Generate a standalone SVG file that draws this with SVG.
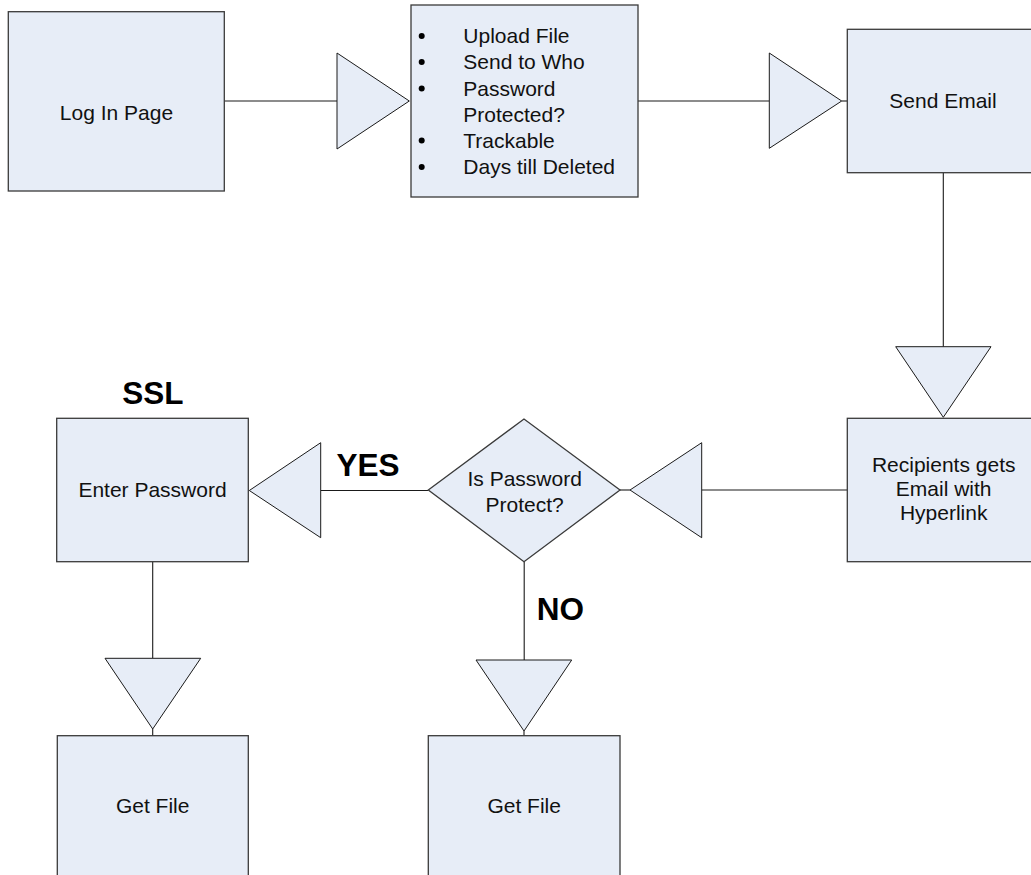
<svg xmlns="http://www.w3.org/2000/svg" width="1031" height="875" viewBox="0 0 1031 875">
<style>
.box{fill:#E7EDF7;stroke:#3a3a3a;stroke-width:1.3}
.tri{fill:#E7EDF7;stroke:#1a1a1a;stroke-width:1}
.ln{fill:none;stroke:#1a1a1a;stroke-width:1.1}
.t{font-family:"Liberation Sans",Arial,sans-serif;font-size:21px;fill:#111;text-anchor:middle}
.tl{font-family:"Liberation Sans",Arial,sans-serif;font-size:21px;fill:#111}
.b{font-family:"Liberation Sans",Arial,sans-serif;font-size:31.5px;font-weight:bold;fill:#000}
.dot{fill:#000}
</style>
<rect width="1031" height="875" fill="#fff"/>
<g id="connectors">
<path class="ln" d="M224.3 101H337"/>
<polygon class="tri" points="337,53 337,149 409.3,101"/>
<path class="ln" d="M638 101H769.3"/>
<polygon class="tri" points="769.3,53 769.3,148.3 841.7,101"/>
<path class="ln" d="M841.7 101H847.3"/>
<path class="ln" d="M943.3 172.7V346.7"/>
<polygon class="tri" points="895.7,346.7 991,346.7 943.3,417.3"/>
<path class="ln" d="M847.3 490H701.7"/>
<polygon class="tri" points="701.7,442.7 701.7,537.7 630,490"/>
<path class="ln" d="M630 490H620"/>
<path class="ln" d="M428.3 490.5H320.7"/>
<polygon class="tri" points="320.7,442.7 320.7,537.7 249.3,490.5"/>
<path class="ln" d="M152.7 561.7V658.3"/>
<polygon class="tri" points="105,658.3 200.7,658.3 152.7,729"/>
<path class="ln" d="M152.7 729V735.7"/>
<path class="ln" d="M524.2 561.7V660"/>
<polygon class="tri" points="476,660 571.7,660 524,731"/>
<path class="ln" d="M524 731V735.7"/>
</g>
<g id="login">
<rect class="box" x="8.3" y="11.7" width="216" height="179.3"/>
<text class="t" x="116.5" y="120">Log In Page</text>
</g>
<g id="options">
<rect class="box" x="411" y="5" width="227" height="192"/>
<circle class="dot" cx="421.7" cy="36" r="3"/>
<circle class="dot" cx="421.7" cy="62" r="3"/>
<circle class="dot" cx="421.7" cy="88.5" r="3"/>
<circle class="dot" cx="421.7" cy="140.5" r="3"/>
<circle class="dot" cx="421.7" cy="167" r="3"/>
<text class="tl" x="463.3" y="43.3">Upload File</text>
<text class="tl" x="463.3" y="69.3">Send to Who</text>
<text class="tl" x="463.3" y="96">Password</text>
<text class="tl" x="463.3" y="121.7">Protected?</text>
<text class="tl" x="463.3" y="147.7">Trackable</text>
<text class="tl" x="463.3" y="174.3">Days till Deleted</text>
</g>
<g id="send-email">
<rect class="box" x="847.3" y="29.3" width="190" height="143.4"/>
<text class="t" x="943" y="108.3">Send Email</text>
</g>
<g id="recipients">
<rect class="box" x="847.3" y="418.3" width="190" height="143.4"/>
<text class="t" x="943.7" y="471.7">Recipients gets</text>
<text class="t" x="943.7" y="496">Email with</text>
<text class="t" x="943.7" y="520">Hyperlink</text>
</g>
<g id="decision">
<polygon class="box" points="428.3,490 524,419 620,490 524,561.7"/>
<text class="t" x="524.7" y="485.5">Is Password</text>
<text class="t" x="524.7" y="511.7">Protect?</text>
</g>
<g id="enter-password">
<rect class="box" x="56.7" y="418.3" width="191.6" height="143.4"/>
<text class="t" x="152.5" y="497.3">Enter Password</text>
</g>
<g id="get-file-1">
<rect class="box" x="57.3" y="735.7" width="191" height="160"/>
<text class="t" x="152.7" y="813.3">Get File</text>
</g>
<g id="get-file-2">
<rect class="box" x="428.3" y="735.7" width="191.7" height="160"/>
<text class="t" x="524.2" y="813.3">Get File</text>
</g>
<g id="labels">
<text class="b" x="152.8" y="404" text-anchor="middle">SSL</text>
<text class="b" x="368" y="475.7" text-anchor="middle">YES</text>
<text class="b" x="536.7" y="620">NO</text>
</g>
</svg>
